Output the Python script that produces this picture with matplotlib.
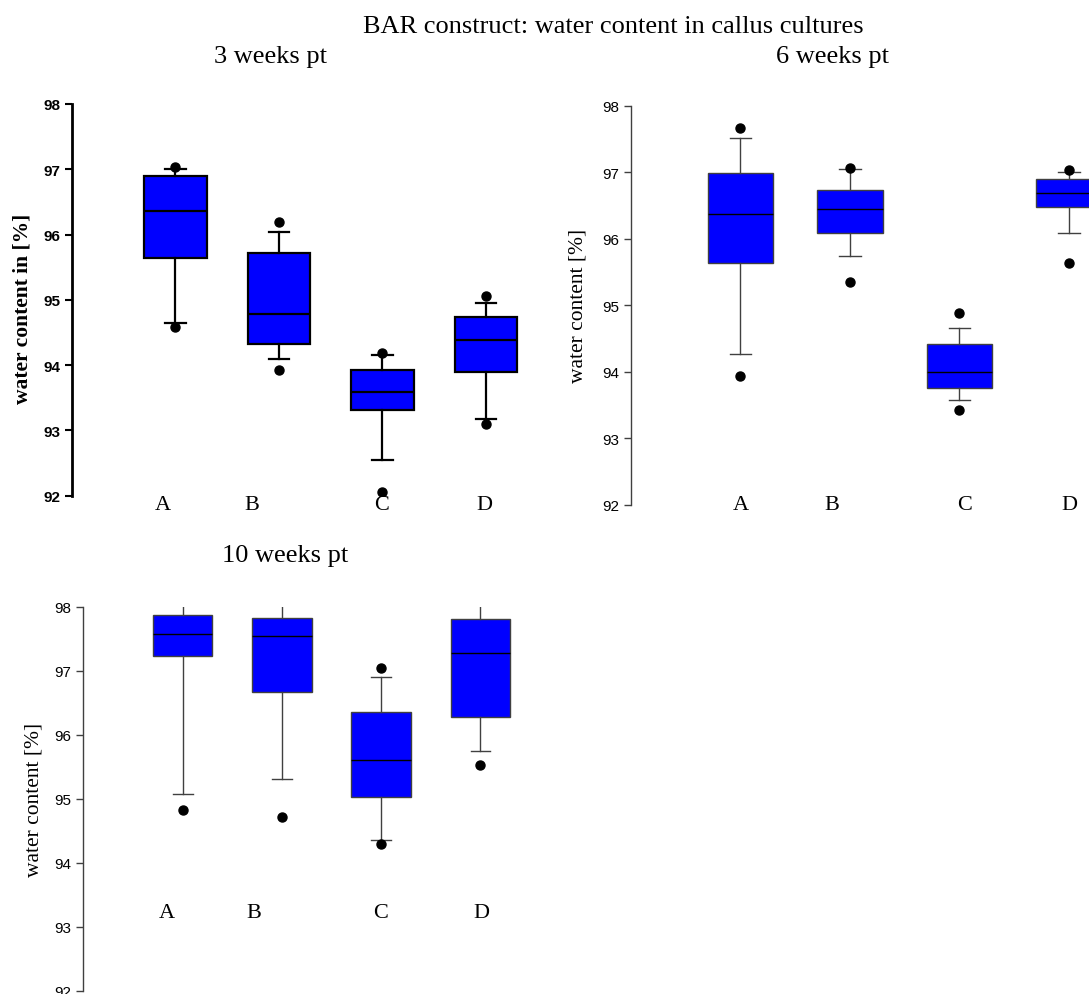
import matplotlib
matplotlib.use("Agg")
import matplotlib.pyplot as plt

plt.rcParams.update({"font.family": "Liberation Sans"})

SERIF = "Liberation Serif"
BLUE = "#0000ff"
GREY = "#404040"

groups = ["A", "B", "C", "D"]

# 3 weeks pt
w3_q1 = [95.64, 94.32, 93.31, 93.89]
w3_med = [96.36, 94.79, 93.59, 94.38]
w3_q3 = [96.89, 95.72, 93.92, 94.74]
w3_lo = [94.65, 94.10, 92.54, 93.17]
w3_hi = [97.00, 96.04, 94.16, 94.95]
w3_fliers = [[97.03, 94.58], [96.19, 93.93], [94.19, 92.05], [95.06, 93.10]]
w3_label_x = [0.88, 1.74, 2.99, 3.98]

# 6 weeks pt
w6_q1 = [95.64, 96.09, 93.76, 96.48]
w6_med = [96.37, 96.45, 94.00, 96.68]
w6_q3 = [96.99, 96.73, 94.41, 96.89]
w6_lo = [94.27, 95.74, 93.57, 96.09]
w6_hi = [97.52, 97.05, 94.66, 97.00]
w6_fliers = [[97.66, 93.94], [97.06, 95.35], [94.88, 93.43], [97.04, 95.64]]
w6_label_x = [1.00, 1.83, 3.05, 4.00]

# 10 weeks pt (upper whiskers run past the top of the axis)
w10_q1 = [97.23, 96.67, 95.03, 96.28]
w10_med = [97.58, 97.54, 95.60, 97.28]
w10_q3 = [97.87, 97.83, 96.35, 97.81]
w10_lo = [95.07, 95.31, 94.36, 95.74]
w10_hi = [98.20, 98.20, 96.91, 98.20]
w10_fliers = [[94.82], [94.71], [97.05, 94.30], [95.52]]
w10_label_x = [0.84, 1.72, 2.99, 4.01]


def stats(q1, med, q3, lo, hi, fl):
    return [dict(q1=a, med=b, q3=c, whislo=d, whishi=e, fliers=f)
            for a, b, c, d, e, f in zip(q1, med, q3, lo, hi, fl)]


def panel(ax, st, label_x, label_y, ylabel, ylab_xy, bold):
    lw = 1.6 if bold else 1.0
    ec = "black" if bold else GREY
    ax.bxp(st, positions=[1, 2, 3, 4], widths=0.6, capwidths=0.2,
           patch_artist=True, showfliers=True,
           boxprops=dict(facecolor=BLUE, edgecolor=ec, linewidth=lw),
           medianprops=dict(color="black", linewidth=lw),
           whiskerprops=dict(color=ec, linewidth=lw),
           capprops=dict(color=ec, linewidth=lw),
           flierprops=dict(marker="o", markerfacecolor="black",
                           markeredgecolor="black", markersize=6.5))
    ax.set_xlim(0, 4.5)
    ax.set_ylim(92, 98)
    ax.set_yticks([92, 93, 94, 95, 96, 97, 98])
    for s in ("top", "right", "bottom"):
        ax.spines[s].set_visible(False)
    ax.spines["left"].set_linewidth(2.0 if bold else 1.0)
    ax.spines["left"].set_color("black" if bold else GREY)
    ax.set_xticks([])
    ax.tick_params(axis="y", direction="out", length=5,
                   width=1.5 if bold else 1.0, labelsize=11,
                   color="black" if bold else GREY)
    if bold:
        for t in ax.get_yticklabels():
            t.set_fontweight("bold")
    for x, g in zip(label_x, groups):
        ax.text(x, label_y, g, ha="center", va="center", fontsize=16,
                family=SERIF, clip_on=False)
    ax.text(ylab_xy[0], ylab_xy[1], ylabel, rotation=90, ha="center",
            va="center", transform=ax.transAxes, family=SERIF, fontsize=15.5,
            fontweight="bold" if bold else "normal")


fig = plt.figure(figsize=(10.89, 9.95), dpi=100)
fig.patch.set_facecolor("white")

ax1 = fig.add_axes([0.0661, 0.5008, 0.4277, 0.3937])
panel(ax1, stats(w3_q1, w3_med, w3_q3, w3_lo, w3_hi, w3_fliers),
      w3_label_x, 91.87, "water content in [%]", (-0.107, 0.48), True)

ax2 = fig.add_axes([0.5794, 0.4918, 0.4525, 0.4010])
panel(ax2, stats(w6_q1, w6_med, w6_q3, w6_lo, w6_hi, w6_fliers),
      w6_label_x, 92.0, "water content [%]", (-0.108, 0.50), False)

ax3 = fig.add_axes([0.0765, 0.0033, 0.4103, 0.3859])
panel(ax3, stats(w10_q1, w10_med, w10_q3, w10_lo, w10_hi, w10_fliers),
      w10_label_x, 93.22, "water content [%]", (-0.110, 0.499), False)

fig.text(613 / 1089, 1 - 27 / 995, "BAR construct: water content in callus cultures",
         ha="center", va="center", family=SERIF, fontsize=19)
fig.text(271 / 1089, 1 - 57 / 995, "3 weeks pt", ha="center", va="center",
         family=SERIF, fontsize=19)
fig.text(833 / 1089, 1 - 57 / 995, "6 weeks pt", ha="center", va="center",
         family=SERIF, fontsize=19)
fig.text(285 / 1089, 1 - 556 / 995, "10 weeks pt", ha="center", va="center",
         family=SERIF, fontsize=19)

fig.savefig("out.png", facecolor="white")
